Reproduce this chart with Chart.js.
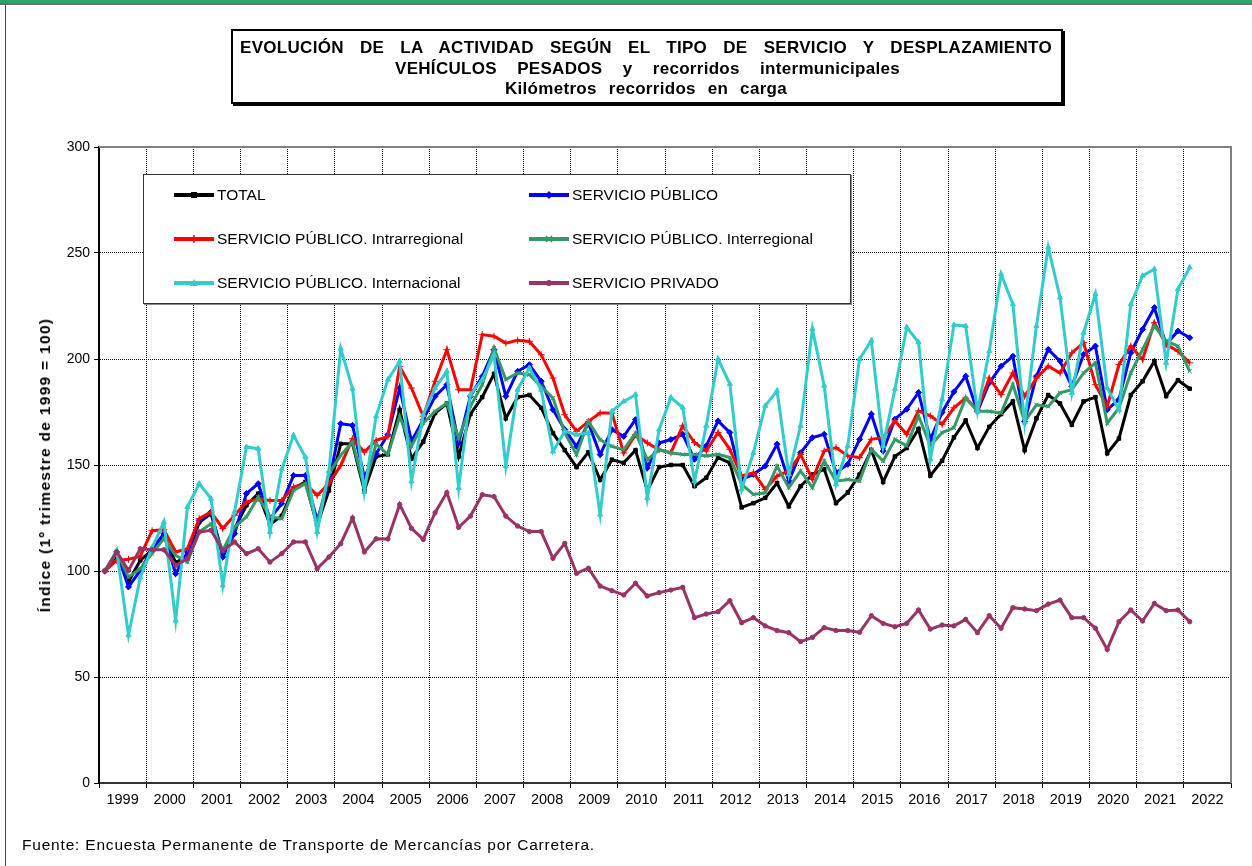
<!DOCTYPE html>
<html>
<head>
<meta charset="utf-8">
<script src="https://cdn.jsdelivr.net/npm/chart.js@4.4.1/dist/chart.umd.min.js"></script>
<style>
body{margin:0;background:#fff;font-family:"Liberation Sans",Arial,sans-serif;color:#000;}
#wrap{position:relative;width:1252px;height:866px;overflow:hidden;background:#fff;}
#c{position:absolute;left:0;top:0;}
.bar1{position:absolute;left:0;top:0;width:1252px;height:3px;background:#34a06c;}
.bar2{position:absolute;left:0;top:3px;width:1252px;height:2px;background:#6f6f6f;}
.lline{position:absolute;left:5px;top:5px;width:1px;height:861px;background:#444;}
#title{position:absolute;left:231px;top:29px;width:828px;height:71px;border:2px solid #000;box-shadow:2px 2px 0 #000;background:#fff;}
#title div{position:absolute;font-weight:bold;font-size:17px;letter-spacing:0.3px;text-align:justify;text-align-last:justify;white-space:nowrap;line-height:20px;}
#ytitle{position:absolute;left:45px;top:465px;transform:translate(-50%,-50%) rotate(-90deg);font-weight:bold;font-size:15.5px;letter-spacing:1.3px;white-space:nowrap;}
#legend{position:absolute;left:143px;top:174px;width:706px;height:128px;border:1px solid #333;box-shadow:1px 1px 0 #888;background:#fff;}
.li{position:absolute;font-size:15.5px;white-space:nowrap;display:flex;align-items:center;height:20px;}
.li svg{margin-right:2px;}
#foot{position:absolute;left:22px;top:836px;font-size:15.5px;letter-spacing:0.8px;white-space:nowrap;}
</style>
</head>
<body>
<div id="wrap">
  <canvas id="c" width="1252" height="866"></canvas>
  <div class="bar1"></div><div class="bar2"></div><div class="lline"></div>
  <div id="title">
    <div style="left:7px;top:7px;width:812px;">EVOLUCIÓN DE LA ACTIVIDAD SEGÚN EL TIPO DE SERVICIO Y DESPLAZAMIENTO</div>
    <div style="left:162px;top:28px;width:505px;">VEHÍCULOS PESADOS y recorridos intermunicipales</div>
    <div style="left:272px;top:48px;width:282px;">Kilómetros recorridos en carga</div>
  </div>
  <div id="ytitle">Índice (1º trimestre de 1999 = 100)</div>
  <div id="legend"></div>
  <div id="foot">Fuente: Encuesta Permanente de Transporte de Mercancías por Carretera.</div>
</div>
<script>
// quarterly index, 1999 T1 .. 2022 T1
const years = ['1999','2000','2001','2002','2003','2004','2005','2006','2007','2008','2009','2010','2011','2012','2013','2014','2015','2016','2017','2018','2019','2020','2021','2022'];

const total = [100,107,95,105, 110,117,104,107, 123,127,108,120, 131,136.5,122,126, 139,142,121.5,138,
  160,160,138,154, 155,176,153,161, 174.5,179,154,174, 182,193,172,182, 183,177,165,157,
  149,156,143,152.5, 151,157,138,149, 150,150,140,144, 153.5,151,130,132, 134.5,141.5,130.5,140,
  145.5,148,132,137, 145.5,157,142,154, 158,167,145,152, 163,171,158,168, 174,180,157,172,
  183,179,169,180, 182,155.5,162.5,183, 189.5,199,182.5,190, 186];

const publico = [100,109,92.5,100.3, 110.5,117.6,98.7,109, 123.9,127.8,106.6,117.6, 136.5,141.2,124.7,131.8, 145.1,145.1,123.9,142,
  169.5,168.7,144.3,155.3, 164.3,186.3,161.2,171.4, 182.4,187.9,160.4,182.4, 191.8,204.4,182.4,194.2, 197.3,189.5,176.1,166.7,
  158.8,169.8,154.9,166.7, 163.5,171.4,148.6,160.4, 162,164.5,152.7,159, 170.8,165.3,143.2,145.6, 149.5,159.8,142.4,155.8,
  162.9,164.5,146.4,150.3, 162.1,174,156.6,171.6, 176.3,184.2,162.1,174.8, 184.5,191.9,175.3,188.7, 196.6,201.3,170.5,191.9,
  204.5,199,187.1,202.1, 206.1,176.1,180.9,202.9, 214,224.2,206.9,213.2, 210];

const intra = [100,105,105.5,107, 119,119.5,109,110.5, 124.7,127.8,120,126.3, 132.5,134.1,133.3,133.3, 139.6,141.2,135.7,141.2,
  149.8,162.4,156.1,161.6, 163.5,196.5,186.3,172.9, 189.5,204.4,185.5,185.5, 211.5,210.7,207.5,208.8, 208.3,202,191,173.7,
  165.9,170.6,174.5,174.5, 155.7,164.3,160.4,157.2, 155.8,168.5,160.6,156.6, 165.3,157.4,144.8,146.4, 138.5,144.8,147.2,155,
  143.2,156.6,158.2,154.3, 153.5,162.1,162.9,170.8, 164.5,175.5,173.2,169.2, 177,181.6,176,191, 183.2,193.4,182.4,191,
  196.6,193.4,202.9,207.7, 187.9,177.6,197.4,206.1, 199.8,217.1,206.9,203.7, 198.2];

const inter = [100,109,97.2,101.1, 108.2,115.3,107.4,104.2, 118.4,122.3,109.7,120.8, 125.5,134.9,125.5,124.7, 138,141.2,122.3,145.9,
  154.6,160.8,139.6,160, 154.9,172.9,158.8,169.8, 175.3,179.2,162.7,177.7, 187.9,205.2,190.3,193.4, 192.6,187.1,181.6,165.1,
  154.9,170.6,161.9,158.8, 157.2,165.1,152.5,157.2, 155.8,155,155,154.3, 155,153.5,140.9,136.1, 136.9,149.5,139.3,147.2,
  139.3,151.9,142.4,143.2, 142.4,157.4,151.9,162.1, 159,173.2,159,165.3, 167.5,181.6,175.3,175.3, 174.5,187.9,170.5,178.4,
  177.6,184,185.5,193.4, 198.2,169.7,176.9,193.4, 204.5,215.6,208.5,206.1, 194.2];

const internacional = [100,109.7,69.7,97, 111,123.1,76.7,130.2, 141.2,134.1,93.2,128, 158.5,157.7,118.4,148, 164,153.8,118.4,147,
  204.9,186,137.3,173, 190.3,198.9,142.3,173.7, 186.3,194.2,139.2,183.2, 190.3,202,149.4,185.5, 195.8,185.5,156.4,165.9,
  164.3,165.1,126.6,175.3, 180,183.2,134.4,166.7, 181.9,177.1,142.4,168.5, 200,188.2,138.5,155.8, 177.9,185,145.6,168.5,
  214.2,187.4,140.9,159, 200,208.7,159,185.8, 215,207.9,152.7,181, 216,215.6,175.3,203.7, 240,225.8,170,215.6,
  252.7,229,184,212.4, 230.6,186.3,176,225.8, 239.3,242.4,198.2,232.9, 243.2];

const privado = [100,109,100.3,110.5, 110,110,102.7,105.8, 118.4,119.2,109.7,113.7, 108.2,110.5,104.2,108.2, 113.7,113.7,101.1,106.6,
  112.9,125,109,115.2, 115.1,131.4,120.1,114.9, 127.5,137,120.6,125.9, 136,135.1,125.9,121.2, 118.6,118.6,106,113,
  98.9,101.3,92.9,90.7, 88.7,94.2,88.2,89.8, 91,92.3,78,79.7, 80.8,86,75.6,78, 74.1,71.9,70.9,66.7,
  68.7,73.3,71.9,71.9, 71.1,78.9,75.3,73.7, 75.3,81.6,72.6,74.5, 74.1,77.2,70.9,78.9, 73,82.7,82.1,81.3,
  84.4,86.3,78,78, 73,63,76.1,81.6, 76.4,84.7,81.3,81.6, 76.1];

const yTicks = [0,50,100,150,200,250,300];

const series = [
  {label:'TOTAL', data:total, color:'#000000', marker:'rect', r:2.5},
  {label:'SERVICIO PÚBLICO', data:publico, color:'#0000ff', marker:'rectRot', r:3},
  {label:'SERVICIO PÚBLICO. Intrarregional', data:intra, color:'#ff0000', marker:'cross', r:3.5},
  {label:'SERVICIO PÚBLICO. Interregional', data:inter, color:'#339966', marker:'crossRot', r:3},
  {label:'SERVICIO PÚBLICO. Internacional', data:internacional, color:'#33cccc', marker:'triangle', r:3},
  {label:'SERVICIO PRIVADO', data:privado, color:'#993366', marker:'circle', r:2.2}
];

const FONT = "'Liberation Sans', Arial, sans-serif";

// legend (2 columns x 3 rows, inside the plot)
function markerSvg(s) {
  const c = s.color, cx = 21, cy = 7;
  let m = '';
  if (s.marker === 'rect') m = `<rect x="${cx-3}" y="${cy-3}" width="6" height="6" fill="${c}"/>`;
  else if (s.marker === 'rectRot') m = `<polygon points="${cx},${cy-4} ${cx+4},${cy} ${cx},${cy+4} ${cx-4},${cy}" fill="${c}"/>`;
  else if (s.marker === 'cross') m = `<path d="M${cx-4} ${cy}H${cx+4}M${cx} ${cy-4}V${cy+4}" stroke="${c}" stroke-width="1.5"/>`;
  else if (s.marker === 'crossRot') m = `<path d="M${cx-3} ${cy-3}L${cx+3} ${cy+3}M${cx+3} ${cy-3}L${cx-3} ${cy+3}" stroke="${c}" stroke-width="1.5"/>`;
  else if (s.marker === 'triangle') m = `<polygon points="${cx},${cy-4} ${cx+4},${cy+3} ${cx-4},${cy+3}" fill="${c}"/>`;
  else m = `<circle cx="${cx}" cy="${cy}" r="3" fill="${c}"/>`;
  return `<svg width="42" height="14"><line x1="1" y1="7" x2="41" y2="7" stroke="${c}" stroke-width="4"/>${m}</svg>`;
}
const legend = document.getElementById('legend');
const colX = [29, 384], rowY = [10, 54, 98];
series.forEach((s, i) => {
  const d = document.createElement('div');
  d.className = 'li';
  d.style.left = colX[i % 2] + 'px';
  d.style.top = rowY[Math.floor(i / 2)] + 'px';
  d.innerHTML = markerSvg(s) + '<span>' + s.label + '</span>';
  legend.appendChild(d);
});

// grey frame on top / right of the plot area
const frame = {
  id: 'frame',
  beforeDatasetsDraw(chart) {
    const a = chart.chartArea, ctx = chart.ctx;
    ctx.save();
    ctx.strokeStyle = '#808080';
    ctx.lineWidth = 2;
    ctx.beginPath();
    ctx.moveTo(a.left, a.top);
    ctx.lineTo(a.right, a.top);
    ctx.lineTo(a.right, a.bottom);
    ctx.stroke();
    ctx.restore();
  }
};

const datasets = series.map((s, i) => ({
  label: s.label,
  data: s.data.map((v, k) => ({x: k + 0.5, y: v})),
  borderColor: s.color,
  backgroundColor: s.color,
  borderWidth: 3,
  pointStyle: s.marker,
  pointRadius: s.r,
  pointBorderWidth: 1,
  pointBorderColor: s.color,
  tension: 0,
  order: series.length - i
}));

new Chart(document.getElementById('c').getContext('2d'), {
  type: 'line',
  data: {datasets},
  plugins: [frame],
  options: {
    responsive: false,
    animation: false,
    layout: {padding: {top: 147, right: 21, bottom: 50, left: 0}},
    plugins: {legend: {display: false}, tooltip: {enabled: false}},
    scales: {
      x: {
        type: 'linear', min: 0, max: years.length * 4,
        afterBuildTicks: sc => { sc.ticks = []; for (let v = 0; v <= years.length * 4; v += 2) sc.ticks.push({value: v}); },
        afterFit: sc => { sc.height = 33; },
        grid: {
          color: c => (c.tick && c.tick.value % 4 === 0 && c.tick.value > 0 && c.tick.value < years.length * 4) ? '#000' : 'rgba(0,0,0,0)',
          tickColor: c => (c.tick && c.tick.value % 4 === 0) ? '#000' : 'rgba(0,0,0,0)',
          lineWidth: 1, tickLength: 5
        },
        border: {display: true, color: '#333', width: 2, dash: [1, 1]},
        ticks: {
          autoSkip: false, maxRotation: 0, minRotation: 0, padding: 3, color: '#000',
          font: {family: FONT, size: 14.5},
          callback: v => (v % 4 === 2) ? years[(v - 2) / 4] : ''
        }
      },
      y: {
        min: 0, max: 300,
        afterBuildTicks: sc => { sc.ticks = yTicks.map(v => ({value: v})); },
        afterFit: sc => { sc.width = 99; },
        grid: {color: '#000', lineWidth: 1, tickLength: 5, tickColor: '#000'},
        border: {display: true, color: '#000', width: 2, dash: [1, 1]},
        ticks: {padding: 4, color: '#000', font: {family: FONT, size: 14}}
      }
    }
  }
});
</script>
</body>
</html>
